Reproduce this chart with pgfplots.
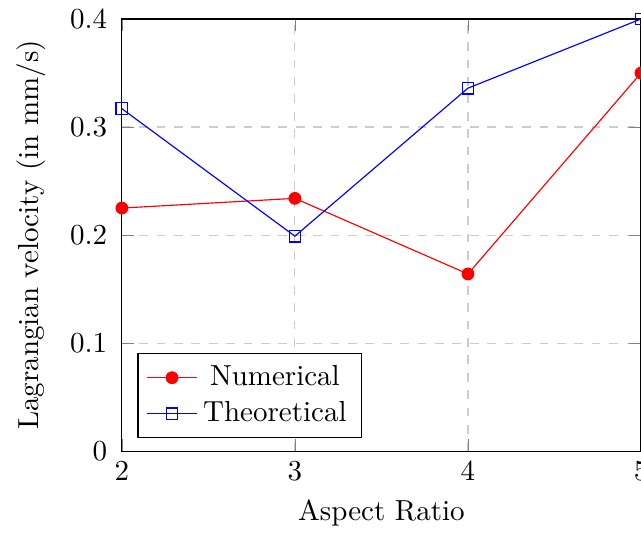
\documentclass[border=0pt]{standalone}
\usepackage{pgfplots}
\pgfplotsset{compat=1.18}
\begin{document}
\begin{tikzpicture}[trim axis right]
\begin{axis}[
  scale only axis, width=179pt, height=149pt,
  xmin=2, xmax=5, ymin=0, ymax=0.4,
  xtick={2,3,4,5}, ytick={0,0.1,0.2,0.3,0.4},
  yticklabel style={/pgf/number format/fixed, xshift=-1.5pt},
  grid=major, grid style={dashed, gray!40},
  xlabel={Aspect Ratio},
  ylabel={Lagrangian velocity (in mm/s)},
  ylabel style={yshift=1.5pt},
  legend pos=south west,
]
\addplot[red, mark=*] coordinates {(2,0.225) (3,0.234) (4,0.164) (5,0.350)};
\addlegendentry{Numerical}
\addplot[blue, mark=square] coordinates {(2,0.317) (3,0.199) (4,0.336) (5,0.400)};
\addlegendentry{Theoretical}
\end{axis}
\path ([xshift=-2.5pt]current bounding box.west) circle (0pt);
\end{tikzpicture}
\end{document}
